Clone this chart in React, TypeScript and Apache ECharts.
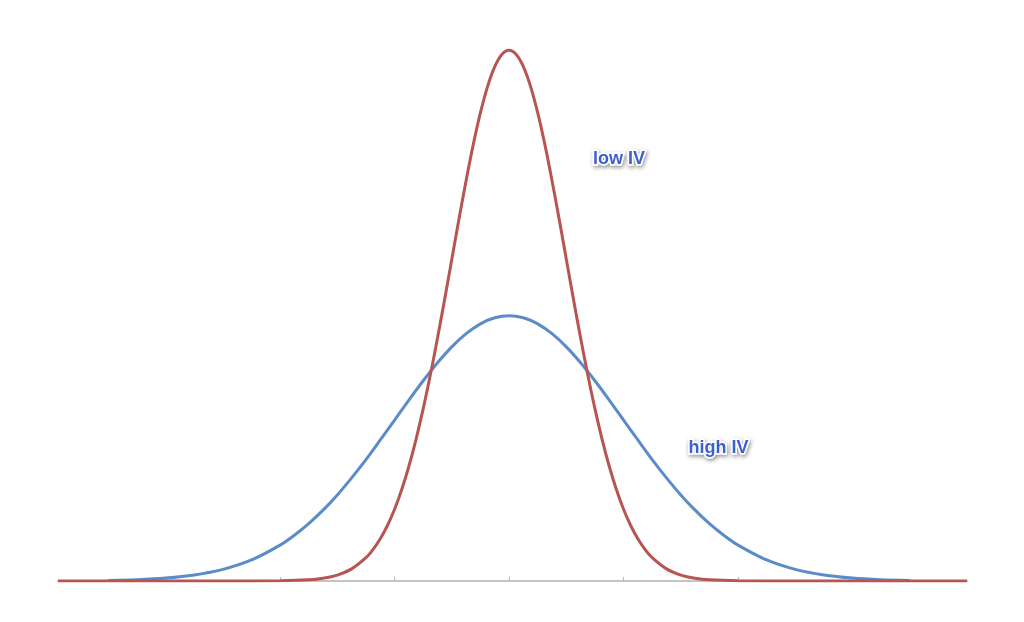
import React, { useEffect, useRef } from "react";
import * as echarts from "echarts";

// x in standard-deviation units of the wide curve, y in density units
const highIvX = [-3.5, -3.25, -3, -2.75, -2.5, -2.25, -2, -1.875, -1.75, -1.625, -1.5, -1.375, -1.25, -1.125, -1, -0.875, -0.75, -0.625, -0.5, -0.375, -0.25, -0.125, 0, 0.125, 0.25, 0.375, 0.5, 0.625, 0.75, 0.875, 1, 1.125, 1.25, 1.375, 1.5, 1.625, 1.75, 1.875, 2, 2.25, 2.5, 2.75, 3, 3.25, 3.5];
const highIvY = [0.0009, 0.002, 0.0044, 0.0091, 0.0175, 0.0317, 0.054, 0.0689, 0.0863, 0.1065, 0.1295, 0.1551, 0.1826, 0.2121, 0.242, 0.2721, 0.3011, 0.3282, 0.3521, 0.3719, 0.3867, 0.3958, 0.3989, 0.3958, 0.3867, 0.3719, 0.3521, 0.3282, 0.3011, 0.2721, 0.242, 0.2121, 0.1826, 0.1551, 0.1295, 0.1065, 0.0863, 0.0689, 0.054, 0.0317, 0.0175, 0.0091, 0.0044, 0.002, 0.0009];

const lowIvX = [-3.94, -2.5, -2, -1.75, -1.625, -1.5, -1.375, -1.25, -1.1875, -1.125, -1.0625, -1, -0.9375, -0.875, -0.8125, -0.75, -0.6875, -0.625, -0.5625, -0.5, -0.4375, -0.375, -0.3125, -0.25, -0.1875, -0.125, -0.0625, 0, 0.0625, 0.125, 0.1875, 0.25, 0.3125, 0.375, 0.4375, 0.5, 0.5625, 0.625, 0.6875, 0.75, 0.8125, 0.875, 0.9375, 1, 1.0625, 1.125, 1.1875, 1.25, 1.375, 1.5, 1.625, 1.75, 2, 2.5, 4.0];
const lowIvY = [0, 0, 0.0003, 0.0017, 0.0041, 0.0089, 0.0182, 0.035, 0.0476, 0.0635, 0.0835, 0.108, 0.1376, 0.1726, 0.2131, 0.2591, 0.3101, 0.3653, 0.4238, 0.484, 0.5442, 0.6023, 0.6565, 0.7042, 0.7438, 0.7735, 0.7918, 0.798, 0.7918, 0.7735, 0.7438, 0.7042, 0.6565, 0.6023, 0.5442, 0.484, 0.4238, 0.3653, 0.3101, 0.2591, 0.2131, 0.1726, 0.1376, 0.108, 0.0835, 0.0635, 0.0476, 0.035, 0.0182, 0.0089, 0.0041, 0.0017, 0.0003, 0, 0];

const tickValues = [-3, -2, -1, 0, 1, 2, 3];
const labelTexts = ["low IV", "high IV"];
const labelX = [0.96, 1.83];
const labelY = [0.636, 0.2015];

const labelStyle = {
  show: true,
  position: "inside",
  fontFamily: "Liberation Sans, Arial, sans-serif",
  fontWeight: "bold",
  fontSize: 18,
  color: "#3d5fcf",
  textBorderColor: "#ffffff",
  textBorderWidth: 3,
  textShadowColor: "rgba(0,0,0,0.45)",
  textShadowBlur: 4,
  textShadowOffsetX: 1,
  textShadowOffsetY: 2,
};

export default function App() {
  const ref = useRef<HTMLDivElement>(null);
  useEffect(() => {
    if (!ref.current) return;
    const chart = echarts.init(ref.current, undefined, { renderer: "svg" });
    chart.setOption({
      animation: false,
      backgroundColor: "#ffffff",
      grid: { left: 58, right: 57, top: 49, bottom: 41 },
      xAxis: {
        type: "value",
        min: -3.94,
        max: 4.0,
        splitLine: { show: false },
        axisLine: { show: true, onZero: false, lineStyle: { color: "#c4c4c4", width: 2 } },
        axisTick: { show: true, inside: true, length: 4, customValues: tickValues, lineStyle: { color: "#b8b8b8", width: 1 } },
        axisLabel: { show: false },
      },
      yAxis: {
        type: "value",
        min: 0,
        max: 0.8,
        show: false,
        splitLine: { show: false },
      },
      series: [
        {
          name: "high IV",
          type: "line",
          smooth: 0.3,
          symbol: "none",
          data: highIvX.map((x, i) => [x, highIvY[i]]),
          lineStyle: { color: "#5b8cc8", width: 3 },
          z: 2,
          markPoint: {
            symbol: "rect",
            symbolSize: 0,
            label: labelStyle,
            data: [{ coord: [labelX[1], labelY[1]], value: labelTexts[1], label: { formatter: labelTexts[1] } }],
          },
        },
        {
          name: "low IV",
          type: "line",
          smooth: 0.3,
          symbol: "none",
          data: lowIvX.map((x, i) => [x, lowIvY[i]]),
          lineStyle: { color: "#b65552", width: 3 },
          z: 3,
          markPoint: {
            symbol: "rect",
            symbolSize: 0,
            label: labelStyle,
            data: [{ coord: [labelX[0], labelY[0]], value: labelTexts[0], label: { formatter: labelTexts[0] } }],
          },
        },
      ],
    });
    return () => chart.dispose();
  }, []);
  return (
    <div
      ref={ref}
      style={{ position: "fixed", left: 0, top: 0, width: 1024, height: 622, background: "#fff" }}
    />
  );
}
